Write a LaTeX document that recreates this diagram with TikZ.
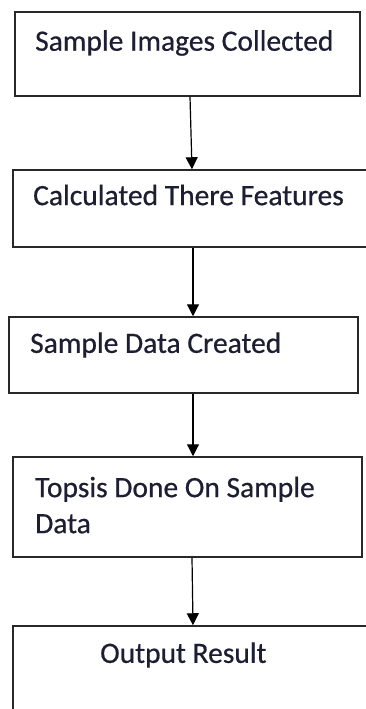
\documentclass[tikz,border=0pt]{standalone}
\usepackage{fontspec}
\setmainfont{Carlito}
\newfontfamily\boxfont{Carlito}[FakeBold=0.6]
\usetikzlibrary{arrows.meta}
\definecolor{boxline}{RGB}{40,40,40}
\definecolor{txt}{RGB}{30,30,50}
\begin{document}
\begin{tikzpicture}[x=1pt,y=-1pt,
  box/.style={draw=boxline,line width=1.5pt,rectangle,inner sep=0pt},
  lbl/.style={anchor=west,inner sep=0pt,text=txt,font=\boxfont\fontsize{29.5}{36}\selectfont,align=left},
  conn/.style={draw=black,line width=1.2pt,-{Triangle[width=12pt,length=12pt]}}]
\useasboundingbox (0,0) rectangle (365,709);
\node[box,minimum width=345pt,minimum height=84pt] (b1) at (187.5,54) {};
\node[box,minimum width=362pt,minimum height=77pt] (b2) at (194,208.5) {};
\node[box,minimum width=349pt,minimum height=76pt] (b3) at (183.5,355) {};
\node[box,minimum width=349pt,minimum height=100pt] (b4) at (187.5,507) {};
\node[box,minimum width=362pt,minimum height=120pt] (b5) at (194,686) {};
\node[lbl] (t1) at (35,43) {Sample Images Collected};
\node[lbl] (t2) at (33,195) {Calculated There Features};
\node[lbl] (t3) at (30,345) {Sample Data Created};
\node[lbl] (t4) at (35,505) {Topsis Done On Sample\\Data};
\node[lbl] (t5) at (100,655) {Output Result};
\draw[conn] ([xshift=2.5pt]b1.south) -- ([xshift=-2pt]b2.north);
\draw[conn] ([xshift=-1pt]b2.south) -- ([xshift=9.5pt]b3.north);
\draw[conn] ([xshift=9.5pt]b3.south) -- ([xshift=5.5pt]b4.north);
\draw[conn] ([xshift=4.5pt]b4.south) -- ([xshift=-1pt]b5.north);
\end{tikzpicture}
\end{document}
